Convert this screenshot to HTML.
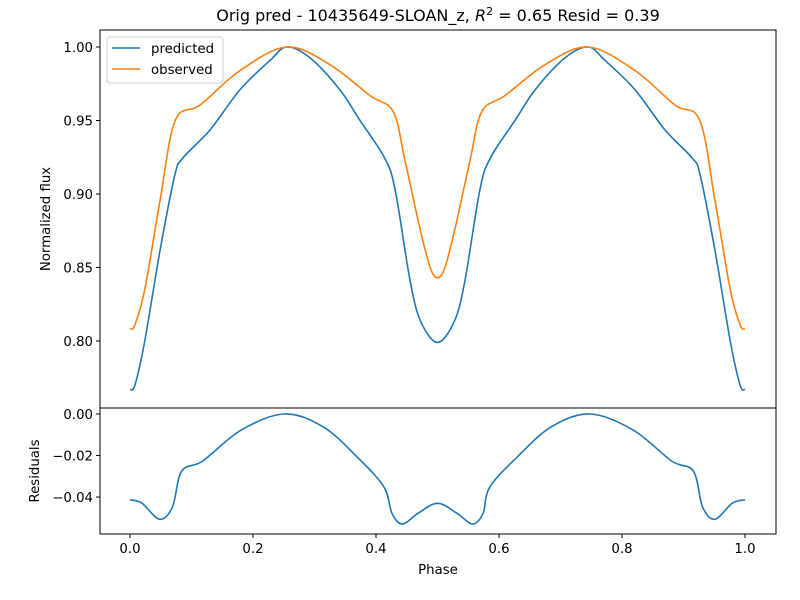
<!DOCTYPE html>
<html><head><meta charset="utf-8"><style>
body{margin:0;background:#fff}
svg{display:block;font-family:"DejaVu Sans","Liberation Sans",sans-serif}
</style></head><body>
<svg id="c" width="800" height="600" viewBox="0 0 800 600"></svg>
<script>
const predPhase=[0,0.008,0.024,0.049,0.073,0.086,0.13,0.179,0.228,0.255,0.293,0.341,0.374,0.414,0.431,0.455,0.472,0.5,0.528,0.545,0.569,0.586,0.626,0.659,0.707,0.745,0.772,0.821,0.87,0.914,0.927,0.951,0.976,0.992,1];
const predFlux=[0.767,0.770,0.800,0.862,0.913,0.9245,0.9435,0.971,0.991,1.0,0.9925,0.971,0.950,0.9245,0.903,0.842,0.814,0.799,0.814,0.842,0.903,0.9245,0.950,0.971,0.9925,1.0,0.991,0.971,0.9435,0.9245,0.913,0.862,0.800,0.770,0.767];
const obsPhase=[0,0.008,0.024,0.049,0.0735,0.114,0.179,0.255,0.325,0.39,0.428,0.447,0.472,0.488,0.5,0.512,0.528,0.553,0.572,0.61,0.675,0.745,0.821,0.886,0.9265,0.951,0.976,0.992,1];
const obsFlux=[0.808,0.811,0.835,0.896,0.950,0.9605,0.984,1.0,0.988,0.967,0.956,0.923,0.8755,0.850,0.843,0.850,0.8755,0.923,0.956,0.967,0.988,1.0,0.984,0.9605,0.950,0.896,0.835,0.811,0.808];
const resPhase=[0,0.0196,0.048,0.069,0.084,0.118,0.181,0.251,0.314,0.37,0.413,0.426,0.443,0.468,0.5,0.532,0.557,0.574,0.585,0.629,0.685,0.748,0.818,0.881,0.916,0.931,0.951,0.979,1];
const resVal=[-0.0413,-0.043,-0.0507,-0.0448,-0.0275,-0.0227,-0.0077,0,-0.0062,-0.0209,-0.0352,-0.0479,-0.053,-0.0479,-0.043,-0.0479,-0.053,-0.0479,-0.0352,-0.0209,-0.0062,0,-0.0077,-0.0227,-0.0275,-0.0448,-0.0507,-0.043,-0.0413];
const topTicks=[0.80,0.85,0.90,0.95,1.00];
const botTicks=[0.00,-0.02,-0.04];
const xTicks=[0,0.2,0.4,0.6,0.8,1.0];

const svg=document.getElementById('c');const NS='http://www.w3.org/2000/svg';
const X0=100,X1=776;const xmin=-0.0488,xmax=1.0504;
const sx=v=>X0+(v-xmin)/(xmax-xmin)*(X1-X0);
const T0=30,T1=408,tmin=0.7544,tmax=1.01156;
const sy=v=>T1-(v-tmin)/(tmax-tmin)*(T1-T0);
const B0=408,B1=534,bmin=-0.0578,bmax=0.00289;
const sb=v=>B1-(v-bmin)/(bmax-bmin)*(B1-B0);
function el(t,a,p){const e=document.createElementNS(NS,t);for(const k in a)e.setAttribute(k,a[k]);(p||svg).appendChild(e);return e;}
function path(xs,ys,fx,fy){const P=xs.map((x,i)=>[fx(x),fy(ys[i])]);let d='M'+P[0][0]+','+P[0][1];
for(let i=0;i<P.length-1;i++){const p0=P[Math.max(0,i-1)],p1=P[i],p2=P[i+1],p3=P[Math.min(P.length-1,i+2)];
d+=' C'+(p1[0]+(p2[0]-p0[0])/6)+','+(p1[1]+(p2[1]-p0[1])/6)+' '+(p2[0]-(p3[0]-p1[0])/6)+','+(p2[1]-(p3[1]-p1[1])/6)+' '+p2[0]+','+p2[1];}return d;}
function txt(x,y,s,a,size){const t=el('text',{x:x,y:y,'font-size':size||12,fill:'#000','text-anchor':a||'middle'});t.textContent=s;return t;}

let g=el('path',{d:path(predPhase,predFlux,sx,sy),fill:'none',stroke:'#1f77b4','stroke-width':1.6});

g=el('path',{d:path(obsPhase,obsFlux,sx,sy),fill:'none',stroke:'#ff7f0e','stroke-width':1.6});

g=el('path',{d:path(resPhase,resVal,sx,sb),fill:'none',stroke:'#1f77b4','stroke-width':1.6});


el('rect',{x:X0,y:T0,width:X1-X0,height:T1-T0,fill:'none',stroke:'#000','stroke-width':1});
el('rect',{x:X0,y:B0,width:X1-X0,height:B1-B0,fill:'none',stroke:'#000','stroke-width':1});
topTicks.forEach(v=>{const y=sy(v);el('line',{x1:X0-4,x2:X0,y1:y,y2:y,stroke:'#000'});const t=txt(X0-7,y+5,v.toFixed(2),'end',13.3);});
botTicks.forEach(v=>{const y=sb(v);el('line',{x1:X0-4,x2:X0,y1:y,y2:y,stroke:'#000'});const t=txt(X0-7,y+5,(v===0?'0.00':v.toFixed(2).replace('-','\u2212')),'end',13.3);});
xTicks.forEach(v=>{const x=sx(v);el('line',{x1:x,x2:x,y1:B1,y2:B1+4,stroke:'#000'});const t=txt(x,B1+19,v.toFixed(1),'middle',13.3);});
</script>
<div style="position:absolute;left:0;top:0;width:800px;height:600px;pointer-events:none">
<svg width="800" height="600" style="position:absolute;left:0;top:0">
<text x="438" y="21" font-size="16" text-anchor="middle" font-family="DejaVu Sans, Liberation Sans, sans-serif">Orig pred - 10435649-SLOAN_z, <tspan font-style="italic">R</tspan><tspan dy="-6" font-size="11">2</tspan><tspan dy="6"> = 0.65 Resid = 0.39</tspan></text>
<text x="50" y="219" font-size="13.3" text-anchor="middle" transform="rotate(-90 50 219)" font-family="DejaVu Sans, Liberation Sans, sans-serif">Normalized flux</text>
<text x="39" y="471" font-size="13.3" text-anchor="middle" transform="rotate(-90 39 471)" font-family="DejaVu Sans, Liberation Sans, sans-serif">Residuals</text>
<text x="438" y="574" font-size="13.3" text-anchor="middle" font-family="DejaVu Sans, Liberation Sans, sans-serif">Phase</text>
<g>
<rect x="107" y="37" width="116" height="46" rx="3" fill="#fff" fill-opacity="0.8" stroke="#ccc"/>
<line x1="112" x2="140" y1="48" y2="48" stroke="#1f77b4" stroke-width="1.6"/>
<text x="151" y="53" font-size="13.3" font-family="DejaVu Sans, Liberation Sans, sans-serif">predicted</text>
<line x1="112" x2="140" y1="69" y2="69" stroke="#ff7f0e" stroke-width="1.6"/>
<text x="151" y="74" font-size="13.3" font-family="DejaVu Sans, Liberation Sans, sans-serif">observed</text>
</g>
</svg></div>
</body></html>
